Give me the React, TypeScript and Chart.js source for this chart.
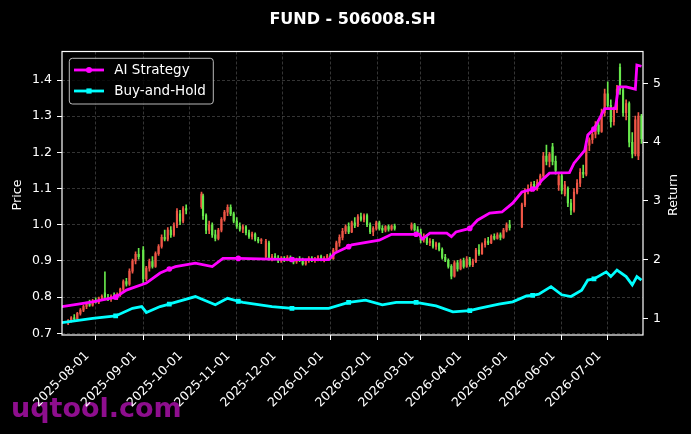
import { useEffect, useRef } from "react";
import { Chart, registerables } from "chart.js";

Chart.register(...registerables);

const TITLE = "FUND - 506008.SH";
const PRICE_LABEL = "Price";
const RETURN_LABEL = "Return";
const WATERMARK = "uqtool.com";

// x axis is counted in calendar days from this date
const START_DATE = "2025-07-10";
const LAST_DAY = 379;

const monthTicks = [
  "2025-08-01", "2025-09-01", "2025-10-01", "2025-11-01", "2025-12-01", "2026-01-01",
  "2026-02-01", "2026-03-01", "2026-04-01", "2026-05-01", "2026-06-01", "2026-07-01",
];
const priceTicks = [0.7, 0.8, 0.9, 1.0, 1.1, 1.2, 1.3, 1.4];
const returnTicks = [1, 2, 3, 4, 5];

// [day, open, high, low, close]
const candles: number[][] = [
  [4, 0.728, 0.738, 0.724, 0.735], [6, 0.735, 0.746, 0.731, 0.743], [8, 0.743, 0.752, 0.737, 0.740],
  [10, 0.740, 0.758, 0.738, 0.755], [12, 0.755, 0.768, 0.750, 0.764], [14, 0.764, 0.778, 0.760, 0.774],
  [16, 0.774, 0.786, 0.768, 0.781], [18, 0.781, 0.792, 0.774, 0.778], [20, 0.778, 0.794, 0.775, 0.790],
  [22, 0.790, 0.798, 0.783, 0.786], [24, 0.786, 0.800, 0.782, 0.796], [26, 0.796, 0.806, 0.790, 0.802],
  [28, 0.812, 0.870, 0.795, 0.800], [30, 0.800, 0.808, 0.790, 0.796], [32, 0.796, 0.806, 0.788, 0.802],
  [34, 0.802, 0.812, 0.795, 0.798], [36, 0.798, 0.812, 0.793, 0.808], [38, 0.808, 0.825, 0.802, 0.822],
  [40, 0.822, 0.848, 0.818, 0.843], [42, 0.843, 0.852, 0.830, 0.836], [44, 0.836, 0.878, 0.832, 0.872],
  [46, 0.872, 0.905, 0.866, 0.900], [48, 0.900, 0.925, 0.892, 0.918], [50, 0.918, 0.935, 0.905, 0.912],
  [53, 0.930, 0.940, 0.840, 0.850], [55, 0.850, 0.885, 0.845, 0.880], [57, 0.880, 0.905, 0.872, 0.898],
  [59, 0.898, 0.912, 0.880, 0.885], [61, 0.885, 0.925, 0.882, 0.920], [63, 0.920, 0.945, 0.915, 0.940],
  [65, 0.940, 0.972, 0.935, 0.965], [67, 0.965, 0.985, 0.955, 0.960], [69, 0.960, 0.992, 0.955, 0.985],
  [71, 0.985, 0.995, 0.965, 0.972], [73, 0.972, 1.005, 0.968, 0.998], [75, 0.998, 1.045, 0.992, 1.038],
  [77, 1.030, 1.040, 1.000, 1.010], [79, 1.010, 1.050, 1.005, 1.045], [81, 1.045, 1.055, 1.030, 1.040],
  [91, 1.050, 1.090, 1.045, 1.085], [92, 1.080, 1.085, 1.015, 1.025], [94, 1.025, 1.030, 0.975, 0.985],
  [96, 0.985, 1.010, 0.975, 1.000], [98, 1.000, 1.005, 0.965, 0.972], [100, 0.972, 0.985, 0.955, 0.962],
  [102, 0.962, 0.990, 0.958, 0.985], [104, 0.985, 1.020, 0.980, 1.015], [106, 1.015, 1.040, 1.010, 1.035],
  [108, 1.035, 1.055, 1.025, 1.048], [110, 1.048, 1.055, 1.025, 1.030], [112, 1.030, 1.035, 1.005, 1.010],
  [114, 1.010, 1.020, 0.990, 0.996], [116, 0.996, 1.005, 0.982, 0.988], [118, 0.988, 1.000, 0.978, 0.994],
  [120, 0.994, 0.998, 0.972, 0.978], [122, 0.978, 0.985, 0.962, 0.968], [124, 0.968, 0.980, 0.960, 0.974],
  [126, 0.974, 0.978, 0.955, 0.960], [128, 0.960, 0.965, 0.950, 0.955], [130, 0.955, 0.962, 0.948, 0.958],
  [133, 0.912, 0.960, 0.908, 0.955], [135, 0.950, 0.955, 0.902, 0.908], [137, 0.908, 0.918, 0.900, 0.912],
  [139, 0.912, 0.920, 0.905, 0.908], [141, 0.908, 0.915, 0.895, 0.900], [143, 0.900, 0.912, 0.896, 0.908],
  [145, 0.908, 0.912, 0.898, 0.902], [147, 0.902, 0.915, 0.900, 0.910], [149, 0.910, 0.914, 0.898, 0.904],
  [151, 0.904, 0.910, 0.892, 0.897], [153, 0.897, 0.908, 0.893, 0.905], [155, 0.905, 0.912, 0.898, 0.902],
  [157, 0.902, 0.908, 0.888, 0.892], [159, 0.892, 0.905, 0.888, 0.900], [161, 0.900, 0.912, 0.896, 0.908],
  [163, 0.908, 0.912, 0.898, 0.903], [165, 0.903, 0.910, 0.896, 0.906], [167, 0.906, 0.915, 0.900, 0.912],
  [169, 0.912, 0.916, 0.900, 0.905], [171, 0.905, 0.912, 0.897, 0.908], [173, 0.908, 0.918, 0.903, 0.914],
  [175, 0.914, 0.920, 0.902, 0.906], [177, 0.906, 0.935, 0.904, 0.930], [179, 0.930, 0.955, 0.925, 0.950],
  [181, 0.950, 0.972, 0.940, 0.965], [183, 0.965, 0.990, 0.958, 0.982], [185, 0.982, 1.000, 0.975, 0.995],
  [187, 0.995, 1.005, 0.975, 0.980], [189, 0.980, 1.010, 0.978, 1.005], [191, 1.005, 1.020, 0.992, 0.998],
  [193, 0.998, 1.028, 0.995, 1.022], [195, 1.022, 1.032, 1.010, 1.015], [197, 1.015, 1.030, 1.008, 1.025],
  [199, 1.025, 1.030, 0.995, 1.000], [201, 1.000, 1.005, 0.975, 0.980], [203, 0.980, 0.995, 0.970, 0.990],
  [205, 0.990, 1.010, 0.985, 1.005], [207, 1.005, 1.010, 0.985, 0.990], [209, 0.990, 0.998, 0.978, 0.985],
  [211, 0.985, 0.998, 0.980, 0.995], [213, 0.995, 1.000, 0.982, 0.988], [215, 0.988, 1.000, 0.984, 0.996],
  [217, 0.996, 1.002, 0.985, 0.990], [228, 0.990, 1.005, 0.985, 1.000], [230, 1.000, 1.004, 0.982, 0.986],
  [232, 0.986, 0.995, 0.975, 0.980], [234, 0.980, 0.988, 0.950, 0.958], [236, 0.958, 0.975, 0.952, 0.968],
  [238, 0.968, 0.972, 0.945, 0.950], [240, 0.950, 0.962, 0.942, 0.955], [242, 0.955, 0.960, 0.935, 0.940],
  [244, 0.940, 0.952, 0.932, 0.948], [246, 0.948, 0.950, 0.928, 0.932], [248, 0.932, 0.936, 0.905, 0.910],
  [250, 0.910, 0.918, 0.898, 0.902], [252, 0.902, 0.906, 0.880, 0.885], [254, 0.885, 0.890, 0.850, 0.858],
  [256, 0.858, 0.900, 0.855, 0.895], [258, 0.895, 0.902, 0.872, 0.878], [260, 0.878, 0.905, 0.875, 0.900],
  [262, 0.900, 0.908, 0.880, 0.885], [264, 0.885, 0.912, 0.882, 0.905], [266, 0.905, 0.910, 0.885, 0.890],
  [268, 0.890, 0.905, 0.884, 0.898], [270, 0.898, 0.935, 0.895, 0.930], [272, 0.930, 0.945, 0.915, 0.920],
  [274, 0.920, 0.950, 0.918, 0.945], [276, 0.945, 0.962, 0.938, 0.955], [278, 0.955, 0.965, 0.945, 0.950],
  [280, 0.950, 0.972, 0.948, 0.968], [282, 0.968, 0.975, 0.958, 0.962], [284, 0.962, 0.978, 0.960, 0.972],
  [286, 0.972, 0.978, 0.958, 0.965], [288, 0.965, 0.990, 0.962, 0.985], [290, 0.985, 1.005, 0.980, 1.000],
  [292, 1.000, 1.012, 0.985, 0.992], [300, 0.995, 1.060, 0.992, 1.055], [302, 1.055, 1.100, 1.050, 1.095],
  [304, 1.095, 1.110, 1.085, 1.100], [306, 1.100, 1.118, 1.092, 1.112], [308, 1.112, 1.120, 1.095, 1.100],
  [310, 1.100, 1.125, 1.095, 1.118], [312, 1.118, 1.140, 1.110, 1.135], [314, 1.135, 1.200, 1.130, 1.190],
  [316, 1.190, 1.220, 1.165, 1.175], [318, 1.175, 1.200, 1.160, 1.195], [320, 1.215, 1.225, 1.165, 1.175],
  [322, 1.175, 1.190, 1.140, 1.150], [324, 1.110, 1.145, 1.095, 1.135], [326, 1.135, 1.140, 1.085, 1.095],
  [328, 1.085, 1.120, 1.080, 1.110], [330, 1.100, 1.105, 1.050, 1.060], [332, 1.060, 1.070, 1.028, 1.040],
  [334, 1.040, 1.100, 1.035, 1.090], [336, 1.090, 1.125, 1.085, 1.115], [338, 1.115, 1.155, 1.105, 1.145],
  [340, 1.145, 1.165, 1.130, 1.140], [342, 1.140, 1.230, 1.135, 1.220], [344, 1.220, 1.240, 1.205, 1.235],
  [346, 1.235, 1.265, 1.225, 1.250], [348, 1.250, 1.285, 1.240, 1.275], [350, 1.275, 1.285, 1.250, 1.258],
  [352, 1.258, 1.320, 1.255, 1.310], [354, 1.310, 1.375, 1.300, 1.362], [356, 1.362, 1.395, 1.320, 1.330],
  [358, 1.330, 1.345, 1.270, 1.285], [360, 1.285, 1.325, 1.275, 1.318], [362, 1.318, 1.385, 1.310, 1.375],
  [364, 1.435, 1.445, 1.360, 1.372], [366, 1.372, 1.378, 1.300, 1.310], [368, 1.310, 1.345, 1.290, 1.335],
  [370, 1.335, 1.340, 1.215, 1.228], [372, 1.228, 1.255, 1.185, 1.196], [374, 1.196, 1.300, 1.190, 1.290],
  [376, 1.190, 1.310, 1.180, 1.300], [378, 1.300, 1.305, 1.225, 1.238],
];

const aiDays = [
  0, 20, 35, 42, 55, 64, 70, 74, 87, 98, 105, 111, 115, 150, 155, 174, 178, 187, 189, 207,
  215, 231, 233, 235, 240, 251, 254, 257, 266, 271, 279, 287, 294, 300, 307, 309, 313, 318, 331, 334,
  341, 343, 347, 354, 361, 363, 368, 374, 375, 378,
];
const aiValues = [
  1.20, 1.28, 1.36, 1.48, 1.60, 1.77, 1.84, 1.88, 1.94, 1.88, 2.02, 2.02, 2.02, 2.00, 2.00, 2.00, 2.11, 2.22, 2.25, 2.33,
  2.43, 2.43, 2.43, 2.35, 2.45, 2.45, 2.39, 2.47, 2.53, 2.67, 2.79, 2.81, 2.96, 3.15, 3.20, 3.21, 3.35, 3.47, 3.48, 3.64,
  3.86, 4.12, 4.22, 4.57, 4.57, 4.94, 4.94, 4.90, 5.31, 5.29,
];

const bhDays = [
  0, 20, 35, 46, 52, 55, 64, 70, 72, 87, 100, 108, 115, 118, 137, 150, 155, 174, 187, 198,
  209, 218, 231, 244, 255, 266, 272, 285, 294, 303, 307, 311, 319, 326, 332, 339, 343, 347, 355, 358,
  362, 368, 372, 375, 378,
];
const bhValues = [
  0.925, 1.00, 1.04, 1.17, 1.20, 1.10, 1.20, 1.24, 1.26, 1.37, 1.23, 1.34, 1.29, 1.27, 1.20, 1.17, 1.17, 1.17, 1.27, 1.31,
  1.23, 1.27, 1.27, 1.21, 1.11, 1.13, 1.17, 1.24, 1.28, 1.38, 1.39, 1.41, 1.54, 1.40, 1.37, 1.48, 1.65, 1.67, 1.79, 1.71,
  1.82, 1.71, 1.57, 1.71, 1.65,
];

// days where the lines carry a marker
const markerDays = [35, 70, 115, 150, 187, 231, 266, 307, 347];

const UP = "#ef5646";
const DOWN = "#68e84c";
const AI_COLOR = "#ff00ff";
const BH_COLOR = "#00ffff";
const GRID = "rgba(120,120,120,0.55)";
const FONT = "'DejaVu Sans'";

function dayOf(date: string) {
  return Math.round((Date.parse(date) - Date.parse(START_DATE)) / 86400000);
}

const monthDays = monthTicks.map(dayOf);

const decorPlugin = {
  id: "decor",
  beforeDraw(chart: any) {
    const { ctx, width, height } = chart;
    ctx.save();
    ctx.fillStyle = "#000";
    ctx.fillRect(0, 0, width, height);
    ctx.font = `bold 27px ${FONT}`;
    ctx.fillStyle = "#8e0e8e";
    ctx.textAlign = "left";
    ctx.textBaseline = "alphabetic";
    ctx.fillText(WATERMARK, 11, 417);
    ctx.restore();
  },
  afterDraw(chart: any) {
    const { ctx, chartArea: a } = chart;
    ctx.save();
    ctx.strokeStyle = "#fff";
    ctx.lineWidth = 1.2;
    ctx.strokeRect(a.left, a.top, a.right - a.left, a.bottom - a.top);

    ctx.fillStyle = "#fff";
    ctx.font = `bold 16px ${FONT}`;
    ctx.textAlign = "center";
    ctx.textBaseline = "alphabetic";
    ctx.fillText(TITLE, (a.left + a.right) / 2, 23.5);

    ctx.font = `12.7px ${FONT}`;
    ctx.textBaseline = "middle";
    const axisTitles: [string, number][] = [[PRICE_LABEL, 17.5], [RETURN_LABEL, 674]];
    axisTitles.forEach(([text, x]) => {
      ctx.save();
      ctx.translate(x, 195);
      ctx.rotate(-Math.PI / 2);
      ctx.fillText(text, 0, 0);
      ctx.restore();
    });

    // legend box in the upper left of the plot
    const lx = a.left + 7.3;
    const ly = a.top + 6.8;
    ctx.beginPath();
    ctx.roundRect(lx, ly, 144, 45.7, 3);
    ctx.fillStyle = "rgba(0,0,0,0.8)";
    ctx.fill();
    ctx.strokeStyle = "rgba(204,204,204,0.9)";
    ctx.lineWidth = 1;
    ctx.stroke();

    const lines = chart.data.datasets.filter((d: any) => d.type === "line");
    lines.forEach((ds: any, i: number) => {
      const y = ly + 11.7 + i * 21;
      ctx.strokeStyle = ds.borderColor;
      ctx.lineWidth = 2.8;
      ctx.beginPath();
      ctx.moveTo(lx + 4.7, y);
      ctx.lineTo(lx + 34.7, y);
      ctx.stroke();
      ctx.fillStyle = ds.borderColor;
      if (ds.pointStyle === "rect") {
        ctx.fillRect(lx + 19.7 - 2.6, y - 2.6, 5.2, 5.2);
      } else {
        ctx.beginPath();
        ctx.arc(lx + 19.7, y, 3, 0, Math.PI * 2);
        ctx.fill();
      }
      ctx.fillStyle = "#fff";
      ctx.font = `13.5px ${FONT}`;
      ctx.textAlign = "left";
      ctx.textBaseline = "middle";
      ctx.fillText(ds.label, lx + 45, y);
    });
    ctx.restore();
  },
};

export default function App() {
  const canvasRef = useRef<HTMLCanvasElement>(null);
  const chartRef = useRef<Chart | null>(null);

  useEffect(() => {
    document.body.style.margin = "0";
    document.body.style.background = "#000";
    const canvas = canvasRef.current;
    if (!canvas) return;
    if (chartRef.current) chartRef.current.destroy();

    const candleColors = candles.map((c) => (c[4] >= c[1] ? UP : DOWN));
    const markerRadius = (r: number) => (ctx: any) =>
      ctx.raw && markerDays.includes(ctx.raw.x) ? r : 0;

    chartRef.current = new Chart(canvas, {
      type: "bar",
      data: {
        datasets: [
          {
            type: "line",
            label: "AI Strategy",
            data: aiDays.map((d, i) => ({ x: d, y: aiValues[i] })),
            yAxisID: "y2",
            borderColor: AI_COLOR,
            backgroundColor: AI_COLOR,
            borderWidth: 2.8,
            pointStyle: "circle",
            pointRadius: markerRadius(2.8),
            pointBorderWidth: 0,
            tension: 0,
            order: 0,
          },
          {
            type: "line",
            label: "Buy-and-Hold",
            data: bhDays.map((d, i) => ({ x: d, y: bhValues[i] })),
            yAxisID: "y2",
            borderColor: BH_COLOR,
            backgroundColor: BH_COLOR,
            borderWidth: 2.8,
            pointStyle: "rect",
            pointRadius: markerRadius(3.4),
            pointBorderWidth: 0,
            tension: 0,
            order: 0,
          },
          {
            type: "bar",
            label: "body",
            data: candles.map((c) => ({ x: c[0], y: [Math.min(c[1], c[4]), Math.max(c[1], c[4])] })),
            yAxisID: "y",
            backgroundColor: candleColors,
            borderWidth: 0,
            barThickness: 1.5,
            grouped: false,
            order: 1,
          },
          {
            type: "bar",
            label: "wick",
            data: candles.map((c) => ({ x: c[0], y: [c[3], c[2]] })),
            yAxisID: "y",
            backgroundColor: candleColors,
            borderWidth: 0,
            barThickness: 1,
            grouped: false,
            order: 2,
          },
        ] as any,
      },
      options: {
        animation: false,
        responsive: true,
        maintainAspectRatio: false,
        events: [],
        layout: { padding: { top: 51.5, left: 0, right: 0, bottom: 0 } },
        plugins: { legend: { display: false }, title: { display: false }, tooltip: { enabled: false } },
        scales: {
          x: {
            type: "linear",
            position: "bottom",
            min: 0,
            max: LAST_DAY,
            offset: false,
            grid: { color: GRID, lineWidth: 0.8, offset: false, tickColor: "#fff", tickLength: 5, tickWidth: 1 },
            border: { display: false, dash: [3, 2] },
            ticks: {
              autoSkip: false,
              minRotation: 45,
              maxRotation: 45,
              color: "#fff",
              font: { family: FONT, size: 12.5 },
              padding: 8.5,
              labelOffset: -8.5,
              callback: (_v: any, i: number) => monthTicks[i],
            },
            afterBuildTicks: (s: any) => {
              s.ticks = monthDays.map((v) => ({ value: v }));
            },
            afterFit: (s: any) => {
              s.height = 99;
            },
          },
          y: {
            type: "linear",
            position: "left",
            min: 0.6953,
            max: 1.4788,
            grid: { color: GRID, lineWidth: 0.8, tickColor: "#fff", tickLength: 5, tickWidth: 1 },
            border: { display: false, dash: [3, 2] },
            ticks: {
              color: "#fff",
              font: { family: FONT, size: 12.5 },
              padding: 5,
              callback: (v: any) => Number(v).toFixed(1),
            },
            afterBuildTicks: (s: any) => {
              s.ticks = priceTicks.map((v) => ({ value: v }));
            },
            afterFit: (s: any) => {
              s.width = 62;
            },
          },
          y2: {
            type: "linear",
            position: "right",
            min: 0.716,
            max: 5.541,
            grid: { drawOnChartArea: false, tickColor: "#fff", tickLength: 5, tickWidth: 1 },
            border: { display: false },
            ticks: {
              color: "#fff",
              font: { family: FONT, size: 12.5 },
              padding: 5,
              callback: (v: any) => String(v),
            },
            afterBuildTicks: (s: any) => {
              s.ticks = returnTicks.map((v) => ({ value: v }));
            },
            afterFit: (s: any) => {
              s.width = 48;
            },
          },
        },
      } as any,
      plugins: [decorPlugin],
    });

    return () => {
      if (chartRef.current) {
        chartRef.current.destroy();
        chartRef.current = null;
      }
    };
  }, []);

  return (
    <div style={{ width: 691, height: 434, position: "relative", background: "#000" }}>
      <canvas ref={canvasRef} />
    </div>
  );
}
